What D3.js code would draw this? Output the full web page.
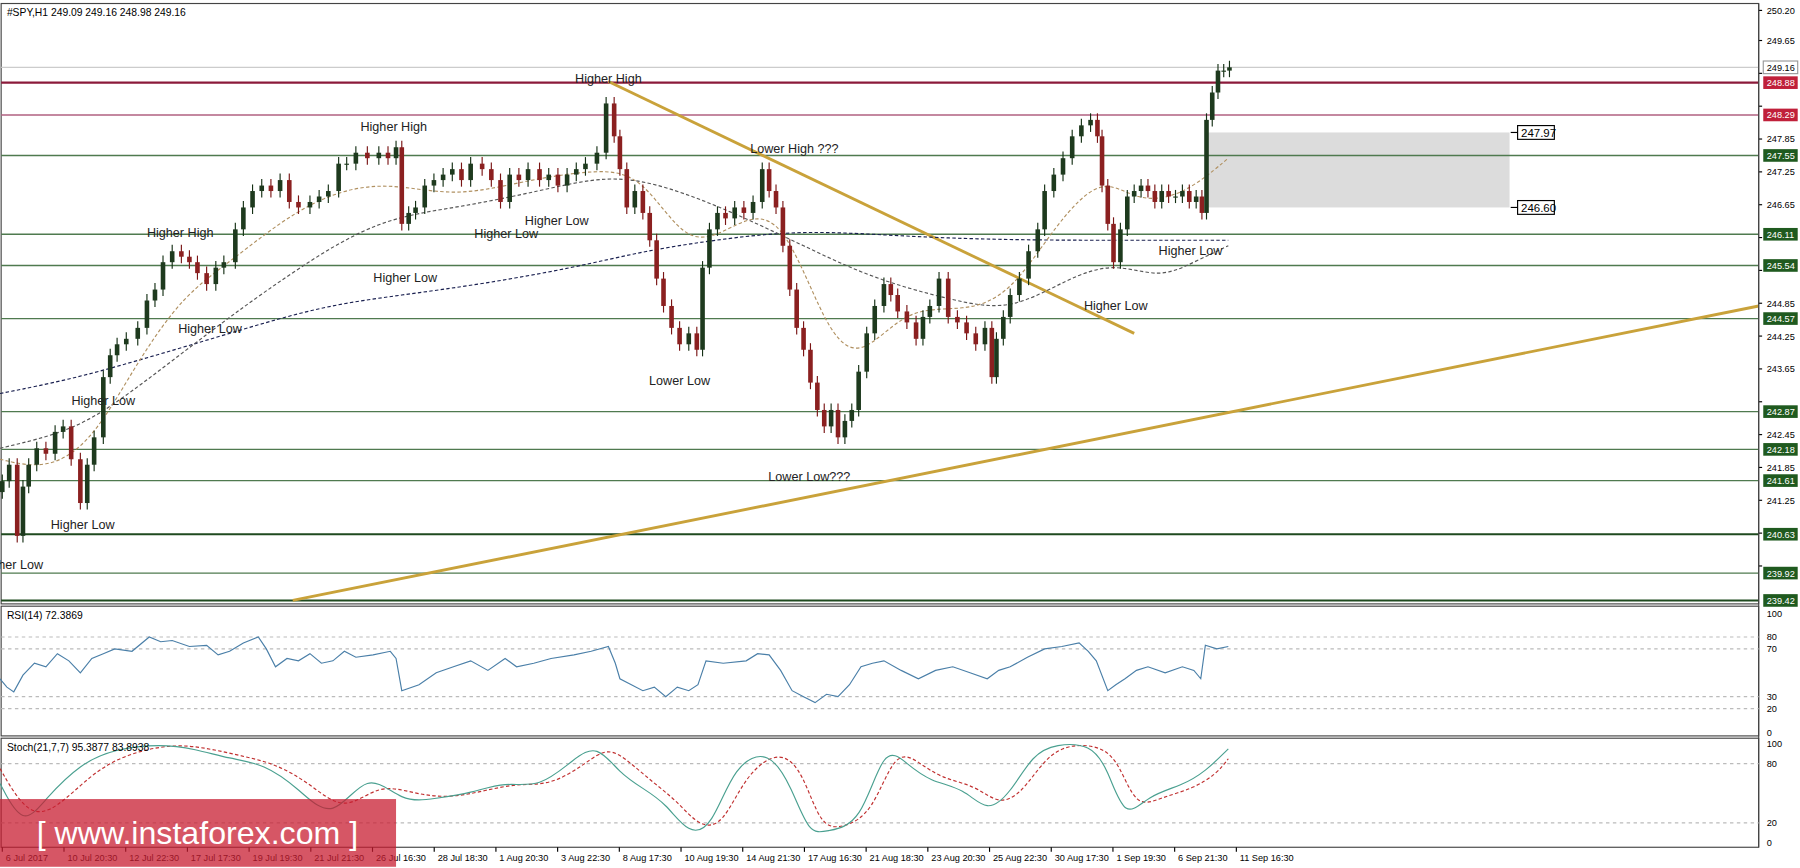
<!doctype html>
<html>
<head>
<meta charset="UTF-8"/>
<title>SPY H1</title>
<script src="https://d3js.org/d3.v7.min.js"></script>
<style>
  body { margin: 0; padding: 0; background: #fff; }
  text { font-family: "Liberation Sans", Arial, sans-serif; }
</style>
</head>
<body>
<svg id="chart" width="1800" height="868" viewBox="0 0 1568 754"></svg>
<script>
// closes by bar position
const closes = [[2,241.6],[8,241.9],[15,240.6],[20,241.5],[25,241.9],[32,242.2],[40,242.1],[48,242.5],[55,242.6],[62,242.0],[70,241.2],[76,241.9],[82,242.4],[90,243.5],[96,243.9],[102,244.1],[110,244.2],[120,244.4],[128,244.9],[135,245.1],[142,245.6],[150,245.8],[158,245.7],[165,245.6],[172,245.4],[180,245.2],[188,245.5],[195,245.6],[205,246.2],[212,246.6],[220,246.9],[228,247.0],[236,246.9],[244,247.1],[252,246.7],[260,246.6],[270,246.7],[278,246.8],[286,246.9],[295,247.4],[302,247.4],[310,247.6],[320,247.5],[330,247.6],[338,247.5],[345,247.7],[350,246.3],[356,246.5],[362,246.6],[370,247.0],[378,247.1],[386,247.2],[394,247.3],[402,247.1],[410,247.4],[420,247.3],[428,247.1],[436,246.7],[444,247.2],[452,247.1],[460,247.3],[470,247.1],[478,247.2],[486,247.0],[494,247.2],[502,247.3],[510,247.4],[520,247.6],[528,248.5],[535,247.9],[540,247.3],[546,246.6],[553,246.9],[560,246.5],[566,246.0],[572,245.3],[578,244.8],[585,244.4],[592,244.1],[600,244.3],[607,244.0],[612,245.5],[618,246.2],[625,246.5],[632,246.4],[640,246.6],[648,246.5],[656,246.7],[664,247.3],[670,246.9],[676,246.6],[682,245.9],[688,245.1],[694,244.4],[700,244.0],[706,243.4],[712,242.9],[718,242.6],[724,242.9],[730,242.4],[736,242.7],[742,242.9],[748,243.6],[755,244.3],[762,244.8],[770,245.2],[776,245.0],[782,244.7],[790,244.5],[798,244.2],[804,244.6],[810,244.8],[818,245.3],[826,244.6],[834,244.5],[842,244.3],[850,244.1],[858,244.4],[864,243.5],[868,244.2],[874,244.6],[880,245.0],[888,245.3],[896,245.8],[904,246.2],[910,246.9],[918,247.2],[926,247.5],[934,247.9],[942,248.1],[950,248.2],[956,247.9],[960,247.0],[965,246.3],[970,245.6],[976,246.2],[982,246.8],[988,246.9],[994,247.0],[1000,246.9],[1006,246.7],[1012,246.9],[1018,246.8],[1024,246.8],[1030,246.9],[1036,246.7],[1042,246.8],[1047,246.5],[1051,248.2],[1056,248.7],[1061,249.1],[1066,249.1],[1071,249.16]];
const maSlow = [[0,243.2],[60,243.45],[120,243.8],[200,244.3],[280,244.8],[350,245.0],[420,245.2],[500,245.5],[560,245.8],[620,246.0],[700,246.2],[800,246.05],[900,246.0],[1000,246.0],[1070,246.0]];
const maMid = [[0,242.2],[60,242.5],[100,243.0],[150,243.8],[200,244.6],[260,245.5],[330,246.4],[400,246.6],[470,246.9],[530,247.2],[580,247.0],[640,246.5],[700,245.9],[760,245.3],[830,244.9],[880,244.7],[930,245.3],[970,245.6],[1010,245.3],[1040,245.6],[1070,245.9]];
const maFast = [[0,242.0],[40,241.8],[80,242.3],[120,243.8],[160,245.0],[200,245.6],[260,246.6],[310,247.0],[350,247.0],[400,246.8],[460,247.1],[520,247.3],[560,247.2],[600,245.8],[640,246.3],[680,246.6],[720,244.3],[750,243.8],[790,244.8],[840,244.7],[880,245.0],[920,246.3],[960,247.2],[990,246.7],[1030,246.8],[1070,247.5]];
const rsi = [[0,45],[6,38],[12,34],[20,48],[30,58],[40,55],[50,66],[60,60],[70,50],[80,62],[90,66],[100,70],[115,68],[130,80],[140,76],[150,77],[165,72],[180,73],[190,65],[200,68],[212,75],[225,80],[232,70],[240,55],[250,62],[260,60],[270,66],[280,58],[290,60],[300,68],[310,63],[325,65],[340,68],[345,62],[350,35],[365,40],[380,50],[395,55],[410,60],[425,52],[440,62],[450,55],[465,58],[480,62],[500,65],[515,68],[530,72],[536,58],[540,45],[550,40],[560,35],[570,38],[580,30],[590,38],[600,35],[608,40],[615,60],[630,58],[650,60],[660,66],[670,65],[680,52],[690,35],[700,30],[710,25],[720,32],[730,30],[740,40],[750,55],[760,58],[770,60],[785,52],[800,45],[815,52],[830,55],[845,50],[860,45],[870,52],[880,55],[895,63],[910,70],[925,72],[940,75],[948,68],[955,60],[965,35],[972,40],[980,45],[990,52],[1000,55],[1015,50],[1030,55],[1040,52],[1046,45],[1050,73],[1060,70],[1070,72]];
const stochMain = [[0,60],[20,15],[40,45],[70,80],[100,95],[140,100],[170,95],[200,85],[230,80],[260,55],[290,20],[320,75],[350,40],[380,45],[410,50],[440,62],[470,55],[500,85],[520,100],[540,70],[560,55],[580,40],[600,8],[620,15],[640,80],[670,95],[690,55],[705,8],[720,12],[750,18],[770,100],[790,80],[810,62],[840,55],[860,30],[880,50],[900,90],[920,100],[950,100],[965,75],[980,22],[1000,48],[1030,58],[1050,72],[1070,95]];
const stochSignal = [[0,75],[25,25],[50,35],[80,70],[110,90],[150,100],[180,96],[210,88],[240,80],[270,60],[300,30],[330,60],[360,50],[390,45],[420,52],[450,60],[480,58],[510,80],[530,98],[550,80],[570,60],[590,42],[610,15],[630,18],[650,70],[680,95],[700,70],[715,15],[735,15],[760,30],[780,95],[800,82],[820,65],[850,58],[870,38],[890,50],[910,85],[930,100],[960,98],[975,80],[990,35],[1010,45],[1040,55],[1060,70],[1070,85]];
const levels = [248.88, 248.29, 247.55, 246.11, 245.54, 244.57, 242.87, 242.18, 241.61, 240.63, 239.92, 239.42];
const priceTicks = [250.20, 249.65, 249.05, 248.45, 247.85, 247.25, 246.65, 246.05, 245.45, 244.85, 244.25, 243.65, 243.05, 242.45, 241.85, 241.25, 240.65, 240.05];
const timeLabels = ["6 Jul 2017","10 Jul 20:30","12 Jul 22:30","17 Jul 17:30","19 Jul 19:30","21 Jul 21:30","26 Jul 16:30","28 Jul 18:30","1 Aug 20:30","3 Aug 22:30","8 Aug 17:30","10 Aug 19:30","14 Aug 21:30","17 Aug 16:30","21 Aug 18:30","23 Aug 20:30","25 Aug 22:30","30 Aug 17:30","1 Sep 19:30","6 Sep 21:30","11 Sep 16:30"];
const notes = [["Higher High",530,71],["Higher High",343,113],["Higher High",157,205],["Lower High ???",692,132],["Higher Low",485,195],["Higher Low",441,206],["Higher Low",353,245],["Higher Low",183,289],["Higher Low",90,352],["Higher Low",72,460],["her Low",18,495],["Lower Low",592,334],["Lower Low???",705,418],["Higher Low",1037,221],["Higher Low",972,269]];
const trends = [[[530,248.9],[988,244.3]],[[255,239.42],[1532,244.8]]];
const zone = [1050, 1315, 247.97, 246.60];

const svg = d3.select("#chart");
const plotW = 1532;
const x = d3.scaleLinear().domain([0, 1532]).range([0, plotW]);
const y = d3.scaleLinear().domain([239.42, 250.20]).range([522, 8]);
const yR = d3.scaleLinear().domain([0, 100]).range([637, 533]);
const yS = d3.scaleLinear().domain([0, 100]).range([733, 647]);

[[2,525],[527,640],[642,737]].forEach(([a,b]) =>
  svg.append("rect").attr("x",1).attr("y",a).attr("width",plotW-1).attr("height",b-a)
    .attr("fill","none").attr("stroke","#444"));

svg.append("rect").attr("x",x(zone[0])).attr("y",y(zone[2])).attr("width",x(zone[1])-x(zone[0]))
  .attr("height",y(zone[3])-y(zone[2])).attr("fill","#dcdcdc");
[zone[2],zone[3]].forEach(v => {
  svg.append("line").attr("x1",x(zone[1])+1).attr("x2",x(zone[1])+7).attr("y1",y(v)).attr("y2",y(v)).attr("stroke","#000");
  svg.append("rect").attr("x",x(zone[1])+7).attr("y",y(v)-6).attr("width",32).attr("height",12).attr("fill","#fff").attr("stroke","#000");
  svg.append("text").attr("x",x(zone[1])+10).attr("y",y(v)+4).attr("font-size",10).text(v.toFixed(2));
});

svg.append("line").attr("x1",1).attr("x2",plotW).attr("y1",y(249.16)).attr("y2",y(249.16)).attr("stroke","#ccc");

levels.forEach((v,i) => {
  const red = i < 2;
  svg.append("line").attr("x1",1).attr("x2",plotW).attr("y1",y(v)).attr("y2",y(v))
    .attr("stroke", red ? (i===0?"#8b1a3a":"#b06080") : (v===240.63||v===239.42?"#1f4a1f":"#4f7a4f"))
    .attr("stroke-width", (i===0||v===240.63||v===239.42)?1.8:1.2);
});

trends.forEach(t => svg.append("line").attr("x1",x(t[0][0])).attr("y1",y(t[0][1])).attr("x2",x(t[1][0])).attr("y2",y(t[1][1]))
  .attr("stroke","#c9a23a").attr("stroke-width",2.5));

const ln = sc => d3.line().x(d => x(d[0])).y(d => sc(d[1])).curve(d3.curveBasis);
svg.append("path").attr("d",ln(y)(maSlow)).attr("fill","none").attr("stroke","#1a2050").attr("stroke-dasharray","3,2");
svg.append("path").attr("d",ln(y)(maMid)).attr("fill","none").attr("stroke","#555").attr("stroke-dasharray","3,2");
svg.append("path").attr("d",ln(y)(maFast)).attr("fill","none").attr("stroke","#b09060").attr("stroke-dasharray","3,2");

const wick = 0.12;
closes.forEach((d,i) => {
  const o = i ? closes[i-1][1] : d[1] - 0.2;
  const c = d[1];
  const up = c >= o;
  const cx = x(d[0]);
  svg.append("line").attr("x1",cx).attr("x2",cx).attr("y1",y(Math.max(o,c)+wick)).attr("y2",y(Math.min(o,c)-wick))
    .attr("stroke", up ? "#153015" : "#7a1515");
  svg.append("rect").attr("x",cx-2).attr("width",4).attr("y",y(Math.max(o,c)))
    .attr("height",Math.max(1,y(Math.min(o,c))-y(Math.max(o,c)))).attr("fill", up ? "#1e3a1e" : "#8b2020");
});

notes.forEach(n => svg.append("text").attr("x",x(n[1])).attr("y",n[2]).attr("text-anchor","middle")
  .attr("font-size",11).attr("fill","#222").text(n[0]));

svg.append("text").attr("x",6).attr("y",13).attr("font-size",9).text("#SPY,H1  249.09 249.16 248.98 249.16");

// price axis: tick labels hidden where a level box sits
const boxed = levels.concat([249.16]);
priceTicks.forEach(v => {
  svg.append("line").attr("x1",plotW).attr("x2",plotW+3).attr("y1",y(v)).attr("y2",y(v)).attr("stroke","#000");
  if (boxed.some(b => Math.abs(y(b) - y(v)) < 10)) return;
  svg.append("text").attr("x",plotW+7).attr("y",y(v)+3).attr("font-size",8).text(v.toFixed(2));
});
svg.append("line").attr("x1",plotW).attr("x2",plotW).attr("y1",2).attr("y2",737).attr("stroke","#444");
boxed.forEach((v,i) => {
  const fill = v===249.16 ? "#fff" : (i<2 ? "#c0203a" : "#1f5a1f");
  svg.append("rect").attr("x",plotW+4).attr("y",y(v)-5.5).attr("width",30).attr("height",11).attr("fill",fill).attr("stroke", v===249.16?"#999":"none");
  svg.append("text").attr("x",plotW+7).attr("y",y(v)+3).attr("font-size",8).attr("fill", v===249.16?"#000":"#fff").text(v.toFixed(2));
});

// RSI
[80,70,30,20].forEach(v => svg.append("line").attr("x1",1).attr("x2",plotW).attr("y1",yR(v)).attr("y2",yR(v)).attr("stroke","#bbb").attr("stroke-dasharray","3,3"));
[100,80,70,30,20,0].forEach(v => svg.append("text").attr("x",plotW+7).attr("y",yR(v)+3).attr("font-size",8).text(v));
svg.append("path").attr("d",d3.line().x(d=>x(d[0])).y(d=>yR(d[1]))(rsi)).attr("fill","none").attr("stroke","#4a7fa8");
svg.append("text").attr("x",6).attr("y",538).attr("font-size",9).text("RSI(14) 72.3869");

// Stoch
[80,20].forEach(v => svg.append("line").attr("x1",1).attr("x2",plotW).attr("y1",yS(v)).attr("y2",yS(v)).attr("stroke","#bbb").attr("stroke-dasharray","3,3"));
[100,80,20,0].forEach(v => svg.append("text").attr("x",plotW+7).attr("y",yS(v)+3).attr("font-size",8).text(v));
svg.append("path").attr("d",ln(yS)(stochSignal)).attr("fill","none").attr("stroke","#c03030").attr("stroke-dasharray","3,2");
svg.append("path").attr("d",ln(yS)(stochMain)).attr("fill","none").attr("stroke","#4aa090");
svg.append("text").attr("x",6).attr("y",653).attr("font-size",9).text("Stoch(21,7,7) 95.3877 83.8938");

// time axis
const xt = d3.scaleLinear().domain([0, timeLabels.length-1]).range([2, 1077]);
timeLabels.forEach((t,i) => {
  svg.append("line").attr("x1",xt(i)).attr("x2",xt(i)).attr("y1",737).attr("y2",741).attr("stroke","#000");
  svg.append("text").attr("x",xt(i)+3).attr("y",749).attr("font-size",8).text(t);
});

// watermark
svg.append("rect").attr("x",0).attr("y",695).attr("width",345).attr("height",59).attr("fill","rgba(200,30,50,0.75)");
svg.append("text").attr("x",172).attr("y",734).attr("text-anchor","middle").attr("font-size",28).attr("fill","#fff")
  .text("[ www.instaforex.com ]");
</script>
</body>
</html>
